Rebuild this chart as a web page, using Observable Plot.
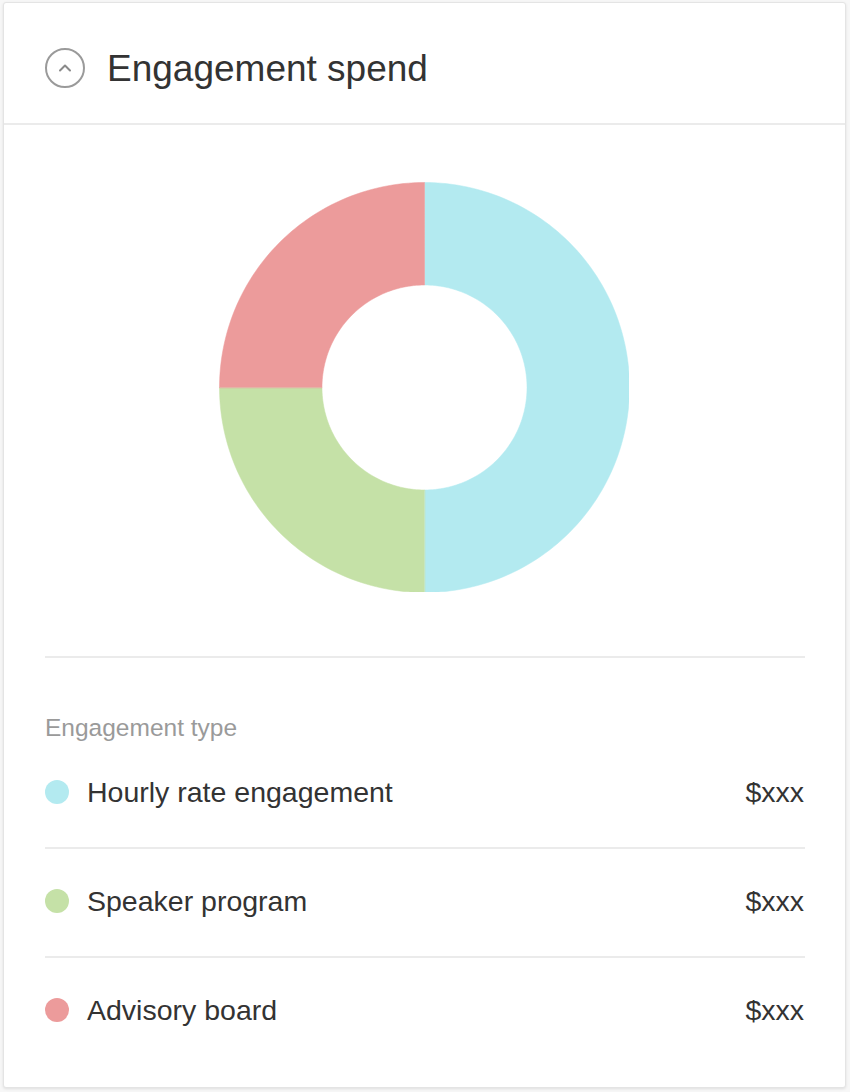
<!DOCTYPE html>
<html>
<head>
<meta charset="utf-8">
<script src="https://cdn.jsdelivr.net/npm/d3@7"></script>
<script src="https://cdn.jsdelivr.net/npm/@observablehq/plot@0.6"></script>
<style>
  html, body { margin: 0; padding: 0; background: #f7f7f7; font-family: "Liberation Sans", Arial, Helvetica, sans-serif; }
  #card { position: absolute; left: 3px; top: 2px; width: 841px; height: 1084px; background: #fff; border: 1px solid #e4e4e4; border-radius: 3px; box-shadow: 0 1px 3px rgba(0,0,0,0.10); overflow: hidden; }
  #header { position: absolute; left: 0; top: 0; width: 100%; height: 120px; border-bottom: 2px solid #ebebeb; }
  #icon { position: absolute; left: 40px; top: 44px; }
  #title { position: absolute; left: 103px; top: 47px; font-size: 37px; color: #333; line-height: 1; white-space: nowrap; }
  #chart { position: absolute; left: 215px; top: 179px; width: 410px; height: 410px; }
  #sep { position: absolute; left: 41px; top: 653px; width: 760px; height: 0; border-top: 2px solid #ebebeb; }
  #legendTitle { position: absolute; left: 41px; top: 713px; font-size: 24.5px; color: #9a9a9a; line-height: 1; white-space: nowrap; }
  .row { position: absolute; left: 41px; width: 760px; height: 109px; }
  .row .dot { position: absolute; left: 0; width: 24px; height: 24px; border-radius: 50%; }
  .row .label { position: absolute; left: 42px; font-size: 28.5px; color: #333; line-height: 1; white-space: nowrap; }
  .row .value { position: absolute; right: 1px; font-size: 28.5px; color: #333; line-height: 1; white-space: nowrap; }
  .row .line { position: absolute; left: 0; width: 760px; border-top: 2px solid #ebebeb; }
</style>
</head>
<body>
<div id="card">
  <div id="header">
    <svg id="icon" width="42" height="42" viewBox="0 0 42 42">
      <circle cx="21" cy="21" r="19" fill="none" stroke="#9a9a9a" stroke-width="2"/>
      <polyline points="16,23.5 21,18.5 26,23.5" fill="none" stroke="#8a8a8a" stroke-width="2" stroke-linecap="round" stroke-linejoin="round"/>
    </svg>
    <div id="title">Engagement spend</div>
  </div>
  <div id="chart"></div>
  <div id="sep"></div>
  <div id="legendTitle">Engagement type</div>
  <div id="legend"></div>
</div>
<script>
const categories = ["Hourly rate engagement", "Speaker program", "Advisory board"];
const shares = [50, 25, 25];
const amounts = ["$xxx", "$xxx", "$xxx"];
const colors = ["#b3eaf0", "#c5e1a7", "#ec9b9b"];

const innerRatio = 0.5;
const data = categories.map((c, i) => ({ key: c, value: shares[i] }));
const arcs = d3.pie().sort(null).value(d => d.value).startAngle(0).endAngle(2 * Math.PI)(data);

// Build ring-segment outlines from the pie angles
const pts = [];
const steps = 120;
for (const a of arcs) {
  const n = Math.max(2, Math.round(steps * (a.endAngle - a.startAngle) / Math.PI));
  for (let k = 0; k <= n; k++) {
    const t = a.startAngle + (a.endAngle - a.startAngle) * k / n;
    pts.push({ key: a.data.key, x: Math.sin(t), y: Math.cos(t) });
  }
  for (let k = n; k >= 0; k--) {
    const t = a.startAngle + (a.endAngle - a.startAngle) * k / n;
    pts.push({ key: a.data.key, x: innerRatio * Math.sin(t), y: innerRatio * Math.cos(t) });
  }
}

const chart = Plot.plot({
  width: 410,
  height: 410,
  margin: 0,
  x: { domain: [-1, 1], axis: null },
  y: { domain: [-1, 1], axis: null },
  color: { domain: categories, range: colors, type: "ordinal" },
  marks: [
    Plot.line(pts, { x: "x", y: "y", z: "key", fill: "key", stroke: "key", strokeWidth: 0.5, curve: "linear-closed" })
  ]
});
document.getElementById("chart").appendChild(chart);

// Legend
const legend = document.getElementById("legend");
categories.forEach((c, i) => {
  const top = 739 + i * 109;
  const row = document.createElement("div");
  row.className = "row";
  row.style.top = top + "px";
  row.innerHTML =
    `<div class="dot" style="top:${38}px;background:${colors[i]}"></div>` +
    `<div class="label" style="top:${36}px">${c}</div>` +
    `<div class="value" style="top:${36}px">${amounts[i]}</div>` +
    (i < categories.length - 1 ? `<div class="line" style="top:${105}px"></div>` : "");
  legend.appendChild(row);
});
</script>
</body>
</html>
